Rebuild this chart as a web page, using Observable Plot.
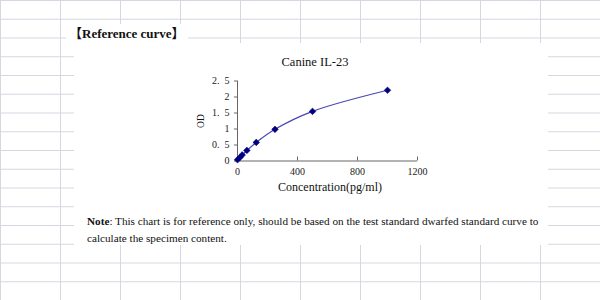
<!DOCTYPE html>
<html>
<head>
<meta charset="utf-8">
<script src="https://cdn.jsdelivr.net/npm/d3@7"></script>
<script src="https://cdn.jsdelivr.net/npm/@observablehq/plot@0.6"></script>
<style>
  html, body { margin: 0; padding: 0; background: #fff; }
  #wrap {
    position: relative; width: 600px; height: 300px; overflow: hidden;
    background-color: #fff;
    background-image:
      linear-gradient(to right, #d4d7e0 1px, transparent 1px),
      linear-gradient(to bottom, #d4d7e0 1px, transparent 1px);
    background-size: 60px 18.75px;
    font-family: "Liberation Serif", "Times New Roman", serif;
    color: #111;
  }
  .abs { position: absolute; }
  #panel { left: 74px; top: 43px; width: 474px; height: 202px; background: #fff; }
  #head { left: 66px; top: 24px; height: 19px; padding: 0 3px; background: #fff;
          font-weight: bold; font-size: 13px; line-height: 19px; white-space: nowrap;
          font-family: "Liberation Serif", "Noto Sans CJK SC", serif; }
  #title { left: 255px; width: 120px; top: 54px; text-align: center; font-size: 12.5px; line-height: 16px; }
  #ylab { left: 192px; top: 115px; width: 18px; text-align: center; font-size: 9.5px; line-height: 12px;
          transform: rotate(-90deg); }
  #xlab { left: 260px; width: 140px; top: 179px; text-align: center; font-size: 12px; line-height: 16px; }
  #chart { left: 180px; top: 50px; }
  #note { left: 87px; top: 213px; font-size: 11.2px; line-height: 16.6px; white-space: nowrap; }
</style>
</head>
<body>
<div id="wrap">
  <div id="panel" class="abs"></div>
  <div id="head" class="abs">【Reference curve】</div>
  <div id="title" class="abs">Canine IL-23</div>
  <div id="chart" class="abs"></div>
  <div id="ylab" class="abs">OD</div>
  <div id="xlab" class="abs">Concentration(pg/ml)</div>
  <div id="note" class="abs"><b>Note</b>: This chart is for reference only, should be based on the test standard dwarfed standard curve to<br>calculate the specimen content.</div>
</div>
<script>
const concentration = [0, 15.625, 31.25, 62.5, 125, 250, 500, 1000];
const od = [0.04, 0.11, 0.19, 0.33, 0.58, 0.99, 1.55, 2.21];
const xTicks = [0, 400, 800, 1200];
const yTicks = [0, 0.5, 1, 1.5, 2, 2.5];

const data = concentration.map((c, i) => ({c, od: od[i]}));
const fmtY = d => Number.isInteger(d) ? String(d) : String(d).replace(".", ".\u2007");

const chart = Plot.plot({
  width: 260,
  height: 150,
  marginLeft: 57,
  marginRight: 23,
  marginTop: 30.5,
  marginBottom: 39.5,
  style: {fontFamily: "Liberation Serif, serif", fontSize: "10px", color: "#222", background: "transparent"},
  x: {domain: [0, 1200]},
  y: {domain: [0, 2.5]},
  marks: [
    Plot.axisY(yTicks, {tickSize: 3, tickPadding: 5, tickFormat: fmtY, label: null, stroke: "#666"}),
    Plot.axisX(xTicks, {tickSize: 0, tickPadding: 6.5, tickFormat: d => String(d), label: null}),
    Plot.tickX(xTicks, {x: d => d, insetTop: 76, stroke: "#666"}),
    Plot.ruleX([0], {stroke: "#666"}),
    Plot.ruleY([0], {stroke: "#666"}),
    Plot.line(data, {x: "c", y: "od", curve: "catmull-rom", stroke: "#4646b4", strokeWidth: 1.2}),
    Plot.dot(data, {x: "c", y: "od", symbol: "diamond2", r: 3, fill: "#000080", stroke: "#000080", strokeWidth: 0.5})
  ]
});
document.getElementById("chart").appendChild(chart);
</script>
</body>
</html>
